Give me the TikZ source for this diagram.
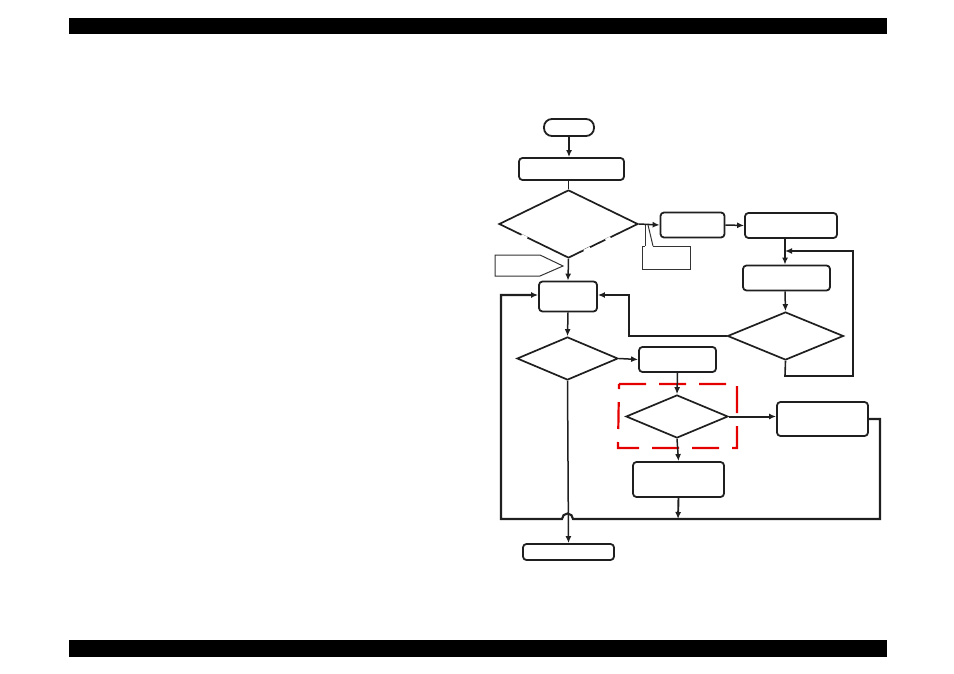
\documentclass[tikz,border=0pt]{standalone}
\usetikzlibrary{shapes.geometric,arrows.meta,calc}
\begin{document}
\begin{tikzpicture}[x=1pt,y=-1pt,
  box/.style={draw=black!88,line width=1.8pt,rounded corners=3.5pt,inner sep=0pt},
  dia/.style={draw=black!88,line width=1.7pt,diamond,inner sep=0pt},
  conn/.style={draw=black!88,line width=1.5pt},
  arr/.style={conn,-{Latex[length=7pt,width=6pt]}},
  bar/.style={fill=black,draw=none},
  thin/.style={line width=1pt,draw=black!80}]
\useasboundingbox (0,0) rectangle (954,674);
% header / footer bars
\fill[bar] (69,18) rectangle (887,34);
\fill[bar] (69,640) rectangle (887,657);
% nodes
\node[box,rounded corners=8pt,minimum width=50pt,minimum height=17pt] (start) at (569,127.5) {};
\node[box,minimum width=105pt,minimum height=22pt] (b1) at (571.5,169) {};
\node[dia,minimum width=139pt,minimum height=68pt] (d1) at (568.5,224) {};
\node[box,minimum width=64pt,minimum height=25pt] (b2) at (692.5,225) {};
\node[box,minimum width=92pt,minimum height=25pt] (b3) at (791,225.5) {};
\node[box,minimum width=87pt,minimum height=25pt] (b4) at (786.5,278) {};
\node[dia,minimum width=116pt,minimum height=48pt] (d2) at (785.5,336) {};
\node[box,minimum width=58pt,minimum height=30pt] (b5) at (568,296.5) {};
\node[dia,minimum width=101pt,minimum height=43pt] (d3) at (567.5,358.5) {};
\node[box,minimum width=77pt,minimum height=25pt] (b6) at (677.5,359.5) {};
\node[dia,minimum width=102pt,minimum height=43pt] (d4) at (677,416.5) {};
\node[box,minimum width=91pt,minimum height=34pt] (b7) at (822.5,419) {};
\node[box,minimum width=91pt,minimum height=35pt] (b8) at (678.5,479.5) {};
\node[box,minimum width=91pt,minimum height=16pt] (end) at (568.5,552) {};
% gaps in lower edges of first diamond
\draw[white,line width=3pt] ($(d1.west)!0.33!(d1.south)$) -- ($(d1.west)!0.41!(d1.south)$);
\draw[white,line width=3pt] ($(d1.east)!0.40!(d1.south)$) -- ($(d1.east)!0.47!(d1.south)$);
\draw[white,line width=3pt] ($(d1.east)!0.69!(d1.south)$) -- ($(d1.east)!0.78!(d1.south)$);
% pentagon pointer
\draw[thin] (495,255) -- (540,255) -- (563,266) -- (540,276) -- (495,276) -- cycle;
% callout box
\coordinate (cA) at (645,225);
\coordinate (cB) at (648,225);
\draw[thin] (645,246) -- (642,246) -- (642,269) -- (690,269) -- (690,246) -- (653,246);
\draw[thin] (cA) -- (645,246);
\draw[thin] (cB) -- (653,246);
% red dashed frame
\draw[red!90!black,line width=2.2pt,dash pattern=on 27pt off 13pt] (619,384) -- (737,384) -- (737,448) -- (618,448) -- cycle;
% connectors
\draw[arr] (start) -- (start|-b1.north);
\draw[conn] (d1.north|-b1.south) -- (d1.north);
\draw[arr] (d1.east) -- (b2.west);
\draw[arr] (b2.east) -- (b3.west);
\coordinate (x3) at (785,0);
\draw[arr] (x3|-b3.south) -- (x3|-b4.north);
\draw[arr] (x3|-b4.south) -- (d2.north);
\coordinate (lp) at (785,251);
\draw[arr,line width=1.6pt] (d2.south) -- (785,376) -- (853,376) -- (853,251) -- (lp);
\draw[arr,line width=1.8pt] (d2.west) -- (629,336) -- (629,295) -- (b5.east|-0,295);
\draw[arr] (d1.south) -- (b5.north);
\draw[arr] (b5.south) -- (d3.north);
\draw[arr] (d3.east) -- (b6.west);
\draw[arr] (d3.south) -- (end.north);
\draw[arr] (b6.south) -- (d4.north);
\draw[arr,line width=2pt] (d4.east) -- (b7.west|-d4.east);
\draw[arr] (d4.south) -- (b8.north);
\coordinate (jn) at (678,519);
\draw[arr,line width=1.9pt] (b8.south) -- (jn);
\draw[arr,line width=2.1pt] (b7.east) -- (880,419) -- (880,519) -- (573,519)
   arc[start angle=0,end angle=-180,radius=5.5] -- (501,519) -- (501,295) -- (b5.west|-0,295);
\end{tikzpicture}
\end{document}
